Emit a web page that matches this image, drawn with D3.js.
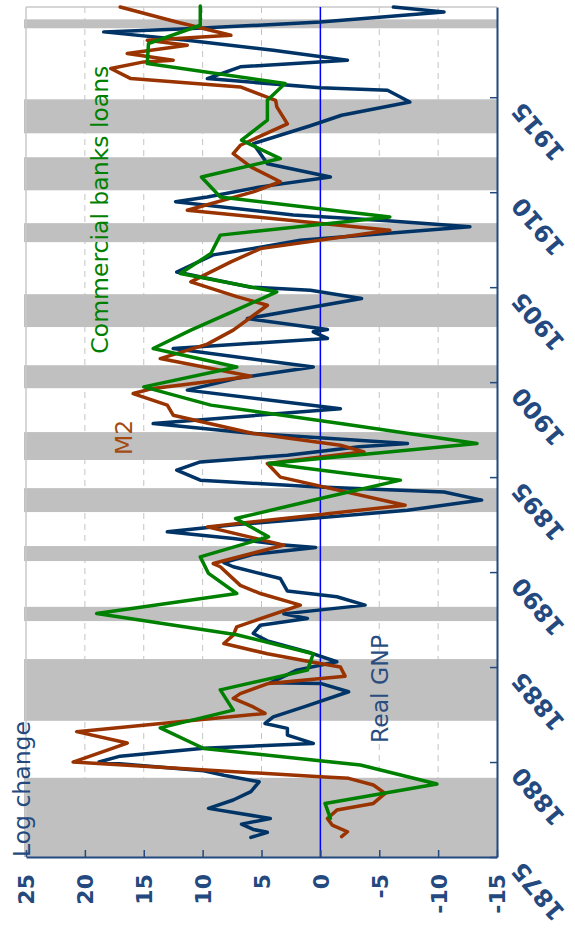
<!DOCTYPE html>
<html><head><meta charset="utf-8">
<script src="https://cdn.jsdelivr.net/npm/d3@7"></script>
<style>body{margin:0;background:#fff}svg{display:block}</style>
</head><body><svg id="c" width="575" height="930"></svg>
<script>
// ---- data ----
const valueTicks = [25, 20, 15, 10, 5, 0, -5, -10, -15];
const yearTicks = [1875, 1880, 1885, 1890, 1895, 1900, 1905, 1910, 1915];
const recessions = [[1875,1879.17],[1882.17,1885.42],[1887.42,1888.17],[1890.58,1891.37],[1893.16,1894.42],[1895.9,1897.37],[1899.68,1900.89],[1902.9,1904.63],[1907.37,1908.37],[1910.1,1911.84],[1913.1,1914.89],[1918.63,1919.1]];
const gnpYears = [1876.03,1876.3,1876.45,1876.73,1877.03,1877.56,1878.0,1878.44,1878.96,1879.3,1879.54,1880.0,1880.31,1880.72,1880.98,1881.42,1881.77,1882.03,1882.38,1882.9,1883.7,1884.14,1884.17,1884.84,1885.28,1885.75,1886.38,1886.77,1887.2,1887.56,1887.8,1888.26,1888.7,1889.0,1889.66,1890.28,1890.5,1890.94,1891.3,1891.42,1891.77,1892.12,1892.5,1893.26,1893.79,1894.22,1894.49,1894.84,1895.37,1895.8,1896.15,1896.6,1896.77,1897.3,1897.82,1898.6,1899.58,1900.2,1900.8,1901.77,1902.3,1902.65,1902.77,1903.35,1904.4,1904.84,1905.0,1905.8,1906.7,1907.1,1907.47,1908.18,1908.5,1908.8,1909.5,1909.75,1910.28,1910.8,1911.5,1912.56,1913.5,1914.05,1914.75,1915.37,1915.5,1915.98,1916.6,1916.95,1917.47,1918.0,1918.44,1918.6,1918.96,1919.49,1919.75];
const gnpValues = [5.9,4.5,5.7,6.7,4.25,9.5,7.4,5.9,5.2,8.2,9.9,18.8,17.0,9.9,0.6,2.8,2.8,4.7,4.0,1.4,-2.4,0,4.25,2.0,-1.4,0.85,4.5,5.7,5.1,1.1,3.1,-3.8,-1.4,2.8,3.4,7.4,8.2,5.7,0.4,3.1,7.4,13.0,7.1,-7.4,-13.7,-10.5,0.6,10.2,12.2,10.2,2.8,-3.3,-7.4,5.7,14.2,-1.7,11.3,7.1,0.6,12.5,-0.6,0.6,-0.6,6.2,-3.5,0.85,5.9,12.2,9.1,5.1,1.7,-12.7,-5.7,2.3,12.3,9.6,5.1,-0.85,4.5,5.7,0.85,-1.8,-7.6,-5.7,0,9.6,6.8,-2.3,4.0,11.3,18.4,11.3,0,-10.5,-6.2];
const m2Years = [1876.07,1876.33,1876.68,1877.03,1877.47,1877.82,1878.35,1878.79,1879.14,1879.22,1880.0,1881.0,1881.6,1882.56,1882.9,1883.35,1883.6,1884.14,1884.52,1885.0,1885.28,1885.7,1886.24,1886.68,1887.12,1888.26,1888.87,1889.3,1890.28,1890.45,1891.42,1892.38,1893.52,1895.0,1895.72,1896.33,1896.68,1897.3,1898.26,1898.79,1899.4,1899.67,1900.31,1901.24,1902.0,1902.74,1904.05,1904.5,1905.28,1906.33,1907.03,1908.0,1909.05,1910.02,1910.55,1911.33,1912.03,1912.47,1913.6,1914.49,1914.84,1915.54,1915.98,1916.51,1916.86,1916.95,1917.3,1917.74,1918.0,1918.26,1918.96,1919.75];
const m2Values = [-1.8,-2.3,-1.0,-0.6,-1.4,-4.5,-5.5,-4.5,-2.4,0,21.0,16.4,20.7,4.7,5.7,7.4,6.8,4.4,-2.1,-1.7,0.85,4.5,8.2,7.4,7.1,1.7,5.1,6.8,8.5,9.1,3.1,9.6,-7.2,3.4,4.5,-3.7,-1.7,5.7,12.5,13.0,15.9,14.2,5.9,13.6,9.6,7.4,4.5,7.1,11.0,7.6,5.1,-5.9,11.3,5.7,3.4,5.9,7.4,6.8,2.8,3.7,3.8,6.8,16.1,17.8,15.0,12.5,16.4,11.3,14.7,7.6,12.2,17.0];
const loanYears = [1877.03,1877.82,1878.84,1879.84,1880.71,1881.8,1882.73,1883.8,1884.84,1885.7,1886.7,1887.82,1888.87,1889.93,1890.8,1891.86,1892.82,1893.87,1894.84,1895.72,1896.77,1897.8,1898.79,1899.75,1900.8,1901.77,1902.74,1903.7,1904.75,1905.72,1906.77,1907.74,1908.7,1909.75,1910.8,1911.77,1912.74,1913.79,1914.84,1915.72,1916.77,1917.82,1918.79,1919.8];
const loanValues = [-0.85,-0.4,-9.9,-3.4,9.9,13.6,7.4,8.5,1.1,0.6,7.1,19.0,7.1,9.5,10.2,4.4,7.2,0,-6.8,4.4,-13.3,-2.0,9.3,15.0,7.1,14.2,11.0,7.5,3.7,11.9,9.3,8.5,-5.9,8.5,10.1,3.4,6.7,4.5,4.5,3.0,14.7,14.6,10.2,10.2];

// ---- layout ----
const svg = d3.select('#c');
const x = d3.scaleLinear().domain([25, -15]).range([26, 497]);
const y = d3.scaleLinear().domain([1875, 1919.75]).range([857, 7]);
const navy = '#003366', axisCol = '#23497f', font = 'DejaVu Sans, Verdana, sans-serif';

// grid
const grid = svg.append('g');
grid.selectAll('line').data(valueTicks.filter(v => v !== 0 && v !== 25 && v !== -15)).join('line')
  .attr('x1', d => x(d)).attr('x2', d => x(d)).attr('y1', y(1919.75)).attr('y2', y(1875))
  .attr('stroke', '#c4c4c4').attr('stroke-width', 1).attr('stroke-dasharray', '6,5');

// recession bars
svg.append('g').selectAll('rect').data(recessions).join('rect')
  .attr('x', x(25) - 2).attr('width', x(-15) - x(25) + 2)
  .attr('y', d => y(d[1])).attr('height', d => y(d[0]) - y(d[1]))
  .attr('fill', '#c0c0c0');

// frame top/left
svg.append('line').attr('x1', x(25)).attr('x2', x(-15)).attr('y1', y(1919.75)).attr('y2', y(1919.75)).attr('stroke', '#c8c8c8').attr('stroke-width', 1.5);
svg.append('line').attr('x1', x(25)).attr('x2', x(25)).attr('y1', y(1919.75)).attr('y2', y(1875)).attr('stroke', '#c8c8c8').attr('stroke-width', 1.5);

// zero line
svg.append('line').attr('x1', x(0)).attr('x2', x(0)).attr('y1', y(1919.75)).attr('y2', y(1875))
  .attr('stroke', '#0000ff').attr('stroke-width', 1.5);

// series
const mk = (ys, vs) => ys.map((yr, i) => [yr, vs[i]]);
const line = d3.line().x(d => x(d[1])).y(d => y(d[0]));
const series = [
  {data: mk(gnpYears, gnpValues), color: navy},
  {data: mk(m2Years, m2Values), color: '#993300'},
  {data: mk(loanYears, loanValues), color: '#008000'}
];
svg.append('g').selectAll('path').data(series).join('path')
  .attr('d', d => line(d.data)).attr('fill', 'none').attr('stroke', d => d.color)
  .attr('stroke-width', 3.5).attr('stroke-linejoin', 'round').attr('stroke-linecap', 'round');

// value axis (bottom)
const ax = svg.append('g').attr('transform', `translate(0,${y(1875)})`)
  .call(d3.axisBottom(x).tickValues(valueTicks).tickSize(-7).tickSizeOuter(0).tickFormat(d => String(d)));
ax.select('.domain').attr('stroke', axisCol).attr('stroke-width', 2);
ax.selectAll('.tick line').attr('stroke', axisCol).attr('stroke-width', 1.5);
ax.selectAll('.tick text').attr('transform', 'translate(0,17) rotate(-90)')
  .attr('x', 0).attr('y', 0).attr('dy', '0.36em').attr('text-anchor', 'end')
  .attr('fill', axisCol).style('font', `bold 22px ${font}`);

// year axis (right)
const ay = svg.append('g').attr('transform', `translate(${x(-15)},0)`)
  .call(d3.axisRight(y).tickValues(yearTicks).tickSize(-7).tickSizeOuter(0).tickFormat(d => String(d)));
ay.select('.domain').attr('stroke', axisCol).attr('stroke-width', 2);
ay.selectAll('.tick line').attr('stroke', axisCol).attr('stroke-width', 1.5);
ay.selectAll('.tick text').attr('x', 0).attr('y', 0).attr('dy', 0)
  .attr('transform', 'translate(26,3) rotate(-130)').attr('text-anchor', 'end')
  .attr('fill', axisCol).style('font', `bold 24px ${font}`);

// labels
const labels = [
  {t: 'Log change', v: 24.7, yr: 1875, c: axisCol},
  {t: 'Commercial banks loans', v: 18.0, yr: 1901.5, c: '#008000'},
  {t: 'M2', v: 16.0, yr: 1896.16, c: '#a34b12'},
  {t: 'Real GNP', v: -5.74, yr: 1881.0, c: '#2a4d7f'}
];
svg.append('g').selectAll('text').data(labels).join('text')
  .attr('transform', d => `translate(${x(d.v)},${y(d.yr)}) rotate(-90)`)
  .attr('fill', d => d.c).style('font', `23.5px ${font}`).text(d => d.t);
</script></body></html>
